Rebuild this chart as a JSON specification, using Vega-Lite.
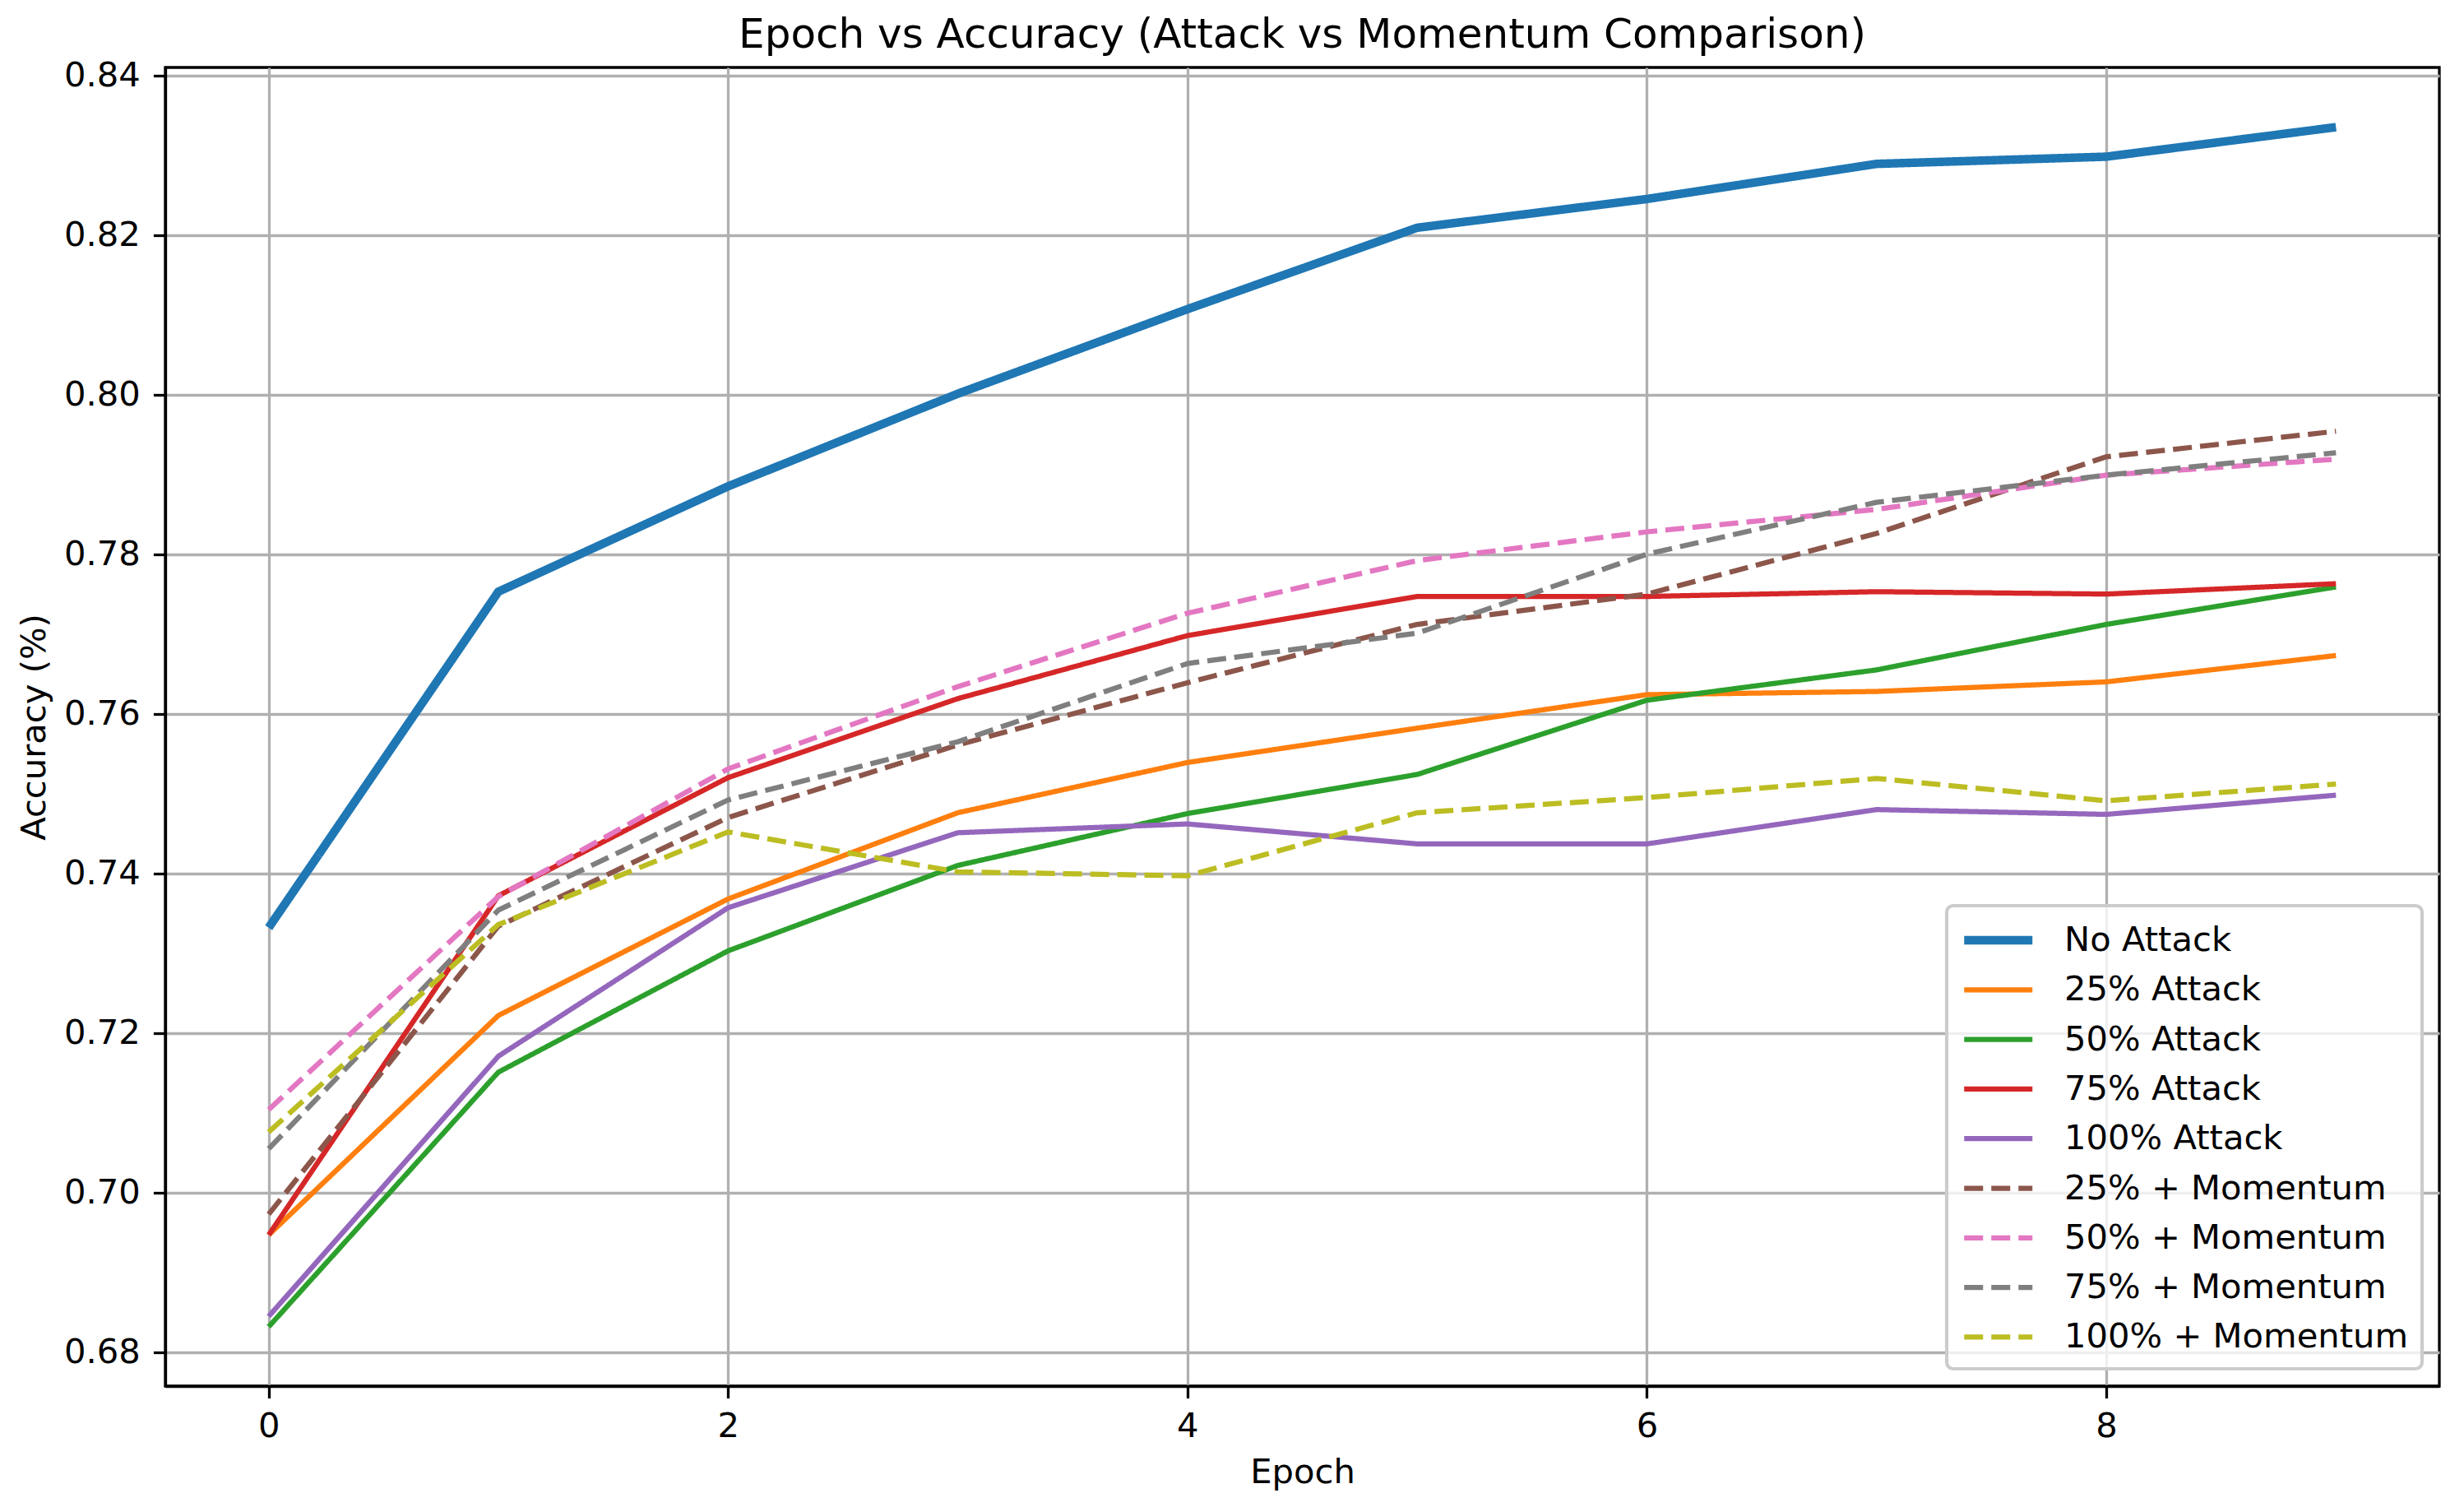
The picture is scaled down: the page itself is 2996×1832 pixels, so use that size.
{
  "$schema": "https://vega.github.io/schema/vega-lite/v6.json",
  "autosize": {"type": "none"},
  "padding": {"left": 201, "top": 82, "right": 30, "bottom": 147},
  "width": 2765,
  "height": 1603,
  "background": "white",
  "title": {
    "text": "Epoch vs Accuracy (Attack vs Momentum Comparison)",
    "font": "DejaVu Sans",
    "fontSize": 50,
    "fontWeight": "normal",
    "color": "black",
    "anchor": "middle",
    "frame": "group",
    "baseline": "alphabetic",
    "offset": -36
  },
  "config": {
    "view": {"stroke": "black", "strokeWidth": 3.3},
    "axis": {
      "labelFont": "DejaVu Sans",
      "labelFontSize": 41.7,
      "labelColor": "black",
      "titleFont": "DejaVu Sans",
      "titleFontSize": 41.7,
      "titleFontWeight": "normal",
      "titleColor": "black",
      "domainColor": "black",
      "domainWidth": 3.3,
      "tickColor": "black",
      "tickWidth": 3.3,
      "tickSize": 14.6,
      "gridColor": "#b0b0b0",
      "gridWidth": 3.3,
      "gridOpacity": 1
    },
    "legend": {
      "orient": "bottom-right",
      "offset": 21,
      "title": null,
      "labelFont": "DejaVu Sans",
      "labelFontSize": 41.7,
      "labelColor": "black",
      "labelLimit": 0,
      "symbolType": "M-1,0H3",
      "symbolSize": 1722,
      "labelOffset": 75,
      "rowPadding": 14.3,
      "padding": 16,
      "fillColor": "rgba(255,255,255,0.8)",
      "strokeColor": "#cccccc",
      "strokeWidth": 4.2,
      "cornerRadius": 8
    }
  },
  "data": {
    "values": [
      {"epoch": 0, "series": "No Attack", "acc": 0.7332},
      {"epoch": 1, "series": "No Attack", "acc": 0.7753},
      {"epoch": 2, "series": "No Attack", "acc": 0.7885},
      {"epoch": 3, "series": "No Attack", "acc": 0.8001},
      {"epoch": 4, "series": "No Attack", "acc": 0.8107},
      {"epoch": 5, "series": "No Attack", "acc": 0.8209},
      {"epoch": 6, "series": "No Attack", "acc": 0.8245},
      {"epoch": 7, "series": "No Attack", "acc": 0.8289},
      {"epoch": 8, "series": "No Attack", "acc": 0.8298},
      {"epoch": 9, "series": "No Attack", "acc": 0.8335},
      {"epoch": 0, "series": "25% Attack", "acc": 0.6947},
      {"epoch": 1, "series": "25% Attack", "acc": 0.7222},
      {"epoch": 2, "series": "25% Attack", "acc": 0.7368},
      {"epoch": 3, "series": "25% Attack", "acc": 0.7476},
      {"epoch": 4, "series": "25% Attack", "acc": 0.7539},
      {"epoch": 5, "series": "25% Attack", "acc": 0.7582},
      {"epoch": 6, "series": "25% Attack", "acc": 0.7624},
      {"epoch": 7, "series": "25% Attack", "acc": 0.7628},
      {"epoch": 8, "series": "25% Attack", "acc": 0.764},
      {"epoch": 9, "series": "25% Attack", "acc": 0.7673},
      {"epoch": 0, "series": "50% Attack", "acc": 0.6832},
      {"epoch": 1, "series": "50% Attack", "acc": 0.7151},
      {"epoch": 2, "series": "50% Attack", "acc": 0.7303},
      {"epoch": 3, "series": "50% Attack", "acc": 0.741},
      {"epoch": 4, "series": "50% Attack", "acc": 0.7475},
      {"epoch": 5, "series": "50% Attack", "acc": 0.7524},
      {"epoch": 6, "series": "50% Attack", "acc": 0.7617},
      {"epoch": 7, "series": "50% Attack", "acc": 0.7655},
      {"epoch": 8, "series": "50% Attack", "acc": 0.7712},
      {"epoch": 9, "series": "50% Attack", "acc": 0.7759},
      {"epoch": 0, "series": "75% Attack", "acc": 0.6947},
      {"epoch": 1, "series": "75% Attack", "acc": 0.7372},
      {"epoch": 2, "series": "75% Attack", "acc": 0.752},
      {"epoch": 3, "series": "75% Attack", "acc": 0.7619},
      {"epoch": 4, "series": "75% Attack", "acc": 0.7698},
      {"epoch": 5, "series": "75% Attack", "acc": 0.7747},
      {"epoch": 6, "series": "75% Attack", "acc": 0.7747},
      {"epoch": 7, "series": "75% Attack", "acc": 0.7753},
      {"epoch": 8, "series": "75% Attack", "acc": 0.775},
      {"epoch": 9, "series": "75% Attack", "acc": 0.7763},
      {"epoch": 0, "series": "100% Attack", "acc": 0.6845},
      {"epoch": 1, "series": "100% Attack", "acc": 0.7171},
      {"epoch": 2, "series": "100% Attack", "acc": 0.7357},
      {"epoch": 3, "series": "100% Attack", "acc": 0.7451},
      {"epoch": 4, "series": "100% Attack", "acc": 0.7462},
      {"epoch": 5, "series": "100% Attack", "acc": 0.7437},
      {"epoch": 6, "series": "100% Attack", "acc": 0.7437},
      {"epoch": 7, "series": "100% Attack", "acc": 0.748},
      {"epoch": 8, "series": "100% Attack", "acc": 0.7474},
      {"epoch": 9, "series": "100% Attack", "acc": 0.7498},
      {"epoch": 0, "series": "25% + Momentum", "acc": 0.6973},
      {"epoch": 1, "series": "25% + Momentum", "acc": 0.7334},
      {"epoch": 2, "series": "25% + Momentum", "acc": 0.747},
      {"epoch": 3, "series": "25% + Momentum", "acc": 0.7561},
      {"epoch": 4, "series": "25% + Momentum", "acc": 0.7639},
      {"epoch": 5, "series": "25% + Momentum", "acc": 0.7712},
      {"epoch": 6, "series": "25% + Momentum", "acc": 0.775},
      {"epoch": 7, "series": "25% + Momentum", "acc": 0.7826},
      {"epoch": 8, "series": "25% + Momentum", "acc": 0.7922},
      {"epoch": 9, "series": "25% + Momentum", "acc": 0.7954},
      {"epoch": 0, "series": "50% + Momentum", "acc": 0.7104},
      {"epoch": 1, "series": "50% + Momentum", "acc": 0.7371},
      {"epoch": 2, "series": "50% + Momentum", "acc": 0.7531},
      {"epoch": 3, "series": "50% + Momentum", "acc": 0.7634},
      {"epoch": 4, "series": "50% + Momentum", "acc": 0.7726},
      {"epoch": 5, "series": "50% + Momentum", "acc": 0.7792},
      {"epoch": 6, "series": "50% + Momentum", "acc": 0.7828},
      {"epoch": 7, "series": "50% + Momentum", "acc": 0.7856},
      {"epoch": 8, "series": "50% + Momentum", "acc": 0.7899},
      {"epoch": 9, "series": "50% + Momentum", "acc": 0.7919},
      {"epoch": 0, "series": "75% + Momentum", "acc": 0.7055},
      {"epoch": 1, "series": "75% + Momentum", "acc": 0.7354},
      {"epoch": 2, "series": "75% + Momentum", "acc": 0.7492},
      {"epoch": 3, "series": "75% + Momentum", "acc": 0.7565},
      {"epoch": 4, "series": "75% + Momentum", "acc": 0.7663},
      {"epoch": 5, "series": "75% + Momentum", "acc": 0.7701},
      {"epoch": 6, "series": "75% + Momentum", "acc": 0.78},
      {"epoch": 7, "series": "75% + Momentum", "acc": 0.7865},
      {"epoch": 8, "series": "75% + Momentum", "acc": 0.7899},
      {"epoch": 9, "series": "75% + Momentum", "acc": 0.7927},
      {"epoch": 0, "series": "100% + Momentum", "acc": 0.7076},
      {"epoch": 1, "series": "100% + Momentum", "acc": 0.7336},
      {"epoch": 2, "series": "100% + Momentum", "acc": 0.7452},
      {"epoch": 3, "series": "100% + Momentum", "acc": 0.7402},
      {"epoch": 4, "series": "100% + Momentum", "acc": 0.7397},
      {"epoch": 5, "series": "100% + Momentum", "acc": 0.7476},
      {"epoch": 6, "series": "100% + Momentum", "acc": 0.7495},
      {"epoch": 7, "series": "100% + Momentum", "acc": 0.7519},
      {"epoch": 8, "series": "100% + Momentum", "acc": 0.7491},
      {"epoch": 9, "series": "100% + Momentum", "acc": 0.7512}
    ]
  },
  "mark": {"type": "line", "strokeJoin": "round", "strokeCap": "butt"},
  "encoding": {
    "x": {
      "field": "epoch",
      "type": "quantitative",
      "scale": {"domain": [-0.45, 9.45], "nice": false, "zero": false},
      "axis": {
        "values": [0, 2, 4, 6, 8],
        "format": "d",
        "labelPadding": 14,
        "title": "Epoch",
        "titleX": 1382.5,
        "titleY": 117,
        "titleBaseline": "alphabetic",
        "titleAlign": "center"
      }
    },
    "y": {
      "field": "acc",
      "type": "quantitative",
      "scale": {"domain": [0.67577, 0.84098], "nice": false, "zero": false},
      "axis": {
        "values": [0.68, 0.7, 0.72, 0.74, 0.76, 0.78, 0.8, 0.82, 0.84],
        "format": ".2f",
        "labelPadding": 16,
        "title": "Accuracy (%)",
        "titleX": -147,
        "titleY": 801.5,
        "titleAngle": -90,
        "titleBaseline": "alphabetic",
        "titleAlign": "center"
      }
    },
    "color": {
      "field": "series",
      "type": "nominal",
      "scale": {
        "domain": ["No Attack", "25% Attack", "50% Attack", "75% Attack", "100% Attack", "25% + Momentum", "50% + Momentum", "75% + Momentum", "100% + Momentum"],
        "range": ["#1f77b4", "#ff7f0e", "#2ca02c", "#d62728", "#9467bd", "#8c564b", "#e377c2", "#7f7f7f", "#bcbd22"]
      }
    },
    "strokeDash": {
      "field": "series",
      "type": "nominal",
      "scale": {
        "domain": ["No Attack", "25% Attack", "50% Attack", "75% Attack", "100% Attack", "25% + Momentum", "50% + Momentum", "75% + Momentum", "100% + Momentum"],
        "range": [[1, 0], [1, 0], [1, 0], [1, 0], [1, 0], [23, 10], [23, 10], [23, 10], [23, 10]]
      }
    },
    "strokeWidth": {
      "field": "series",
      "type": "nominal",
      "scale": {
        "type": "ordinal",
        "domain": ["No Attack", "25% Attack", "50% Attack", "75% Attack", "100% Attack", "25% + Momentum", "50% + Momentum", "75% + Momentum", "100% + Momentum"],
        "range": [10.4, 6.25, 6.25, 6.25, 6.25, 6.25, 6.25, 6.25, 6.25]
      }
    }
  }
}
